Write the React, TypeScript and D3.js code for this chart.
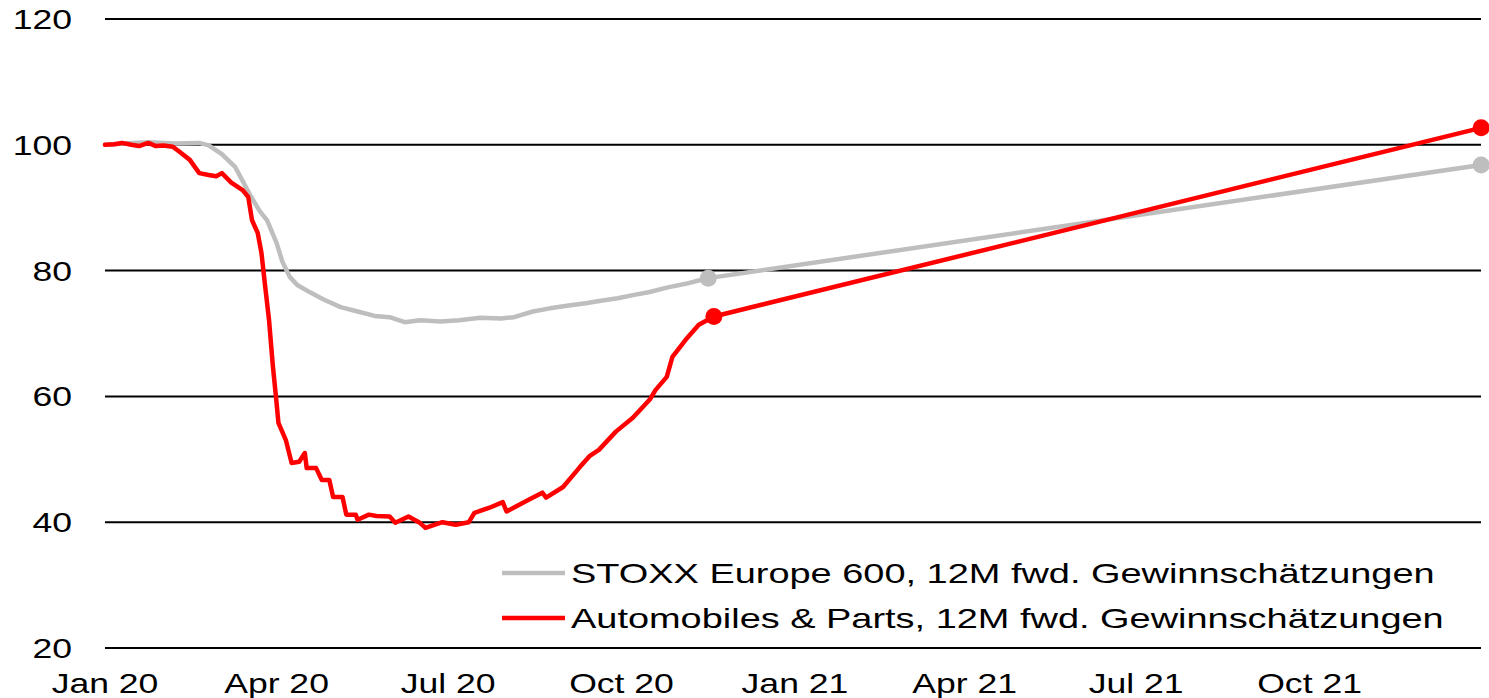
import React from "react";
import * as d3 from "d3";

const yTicks = [20, 40, 60, 80, 100, 120];
const xTickDates = ["2020-01-01", "2020-04-01", "2020-07-01", "2020-10-01", "2021-01-01", "2021-04-01", "2021-07-01", "2021-10-01"];
const xTickLabels = ["Jan 20", "Apr 20", "Jul 20", "Oct 20", "Jan 21", "Apr 21", "Jul 21", "Oct 21"];

const greyDates = ["2020-01-01","2020-01-11","2020-01-24","2020-02-07","2020-02-20","2020-02-25","2020-03-03","2020-03-10","2020-03-18","2020-03-23","2020-03-27","2020-04-01","2020-04-04","2020-04-08","2020-04-12","2020-04-19","2020-04-26","2020-05-05","2020-05-14","2020-05-23","2020-05-31","2020-06-08","2020-06-16","2020-06-27","2020-07-07","2020-07-18","2020-07-29","2020-08-05","2020-08-15","2020-08-24","2020-09-02","2020-09-12","2020-09-20","2020-09-29","2020-10-07","2020-10-16","2020-10-25","2020-11-04","2020-11-12","2020-11-16"];
const greyValues = [100,100.2,100.4,100.2,100.3,99.9,98.5,96.5,92,89.5,88,84.4,81.5,79,77.7,76.5,75.4,74.2,73.5,72.8,72.6,71.8,72.1,71.9,72.1,72.5,72.4,72.6,73.5,74,74.4,74.8,75.2,75.6,76.1,76.6,77.3,77.9,78.5,78.8];

const redDates = ["2020-01-01","2020-01-06","2020-01-10","2020-01-15","2020-01-19","2020-01-24","2020-01-28","2020-02-01","2020-02-06","2020-02-09","2020-02-15","2020-02-20","2020-02-25","2020-02-29","2020-03-03","2020-03-08","2020-03-14","2020-03-17","2020-03-19","2020-03-22","2020-03-24","2020-03-26","2020-03-28","2020-03-30","2020-04-01","2020-04-02","2020-04-06","2020-04-09","2020-04-13","2020-04-16","2020-04-17","2020-04-22","2020-04-25","2020-04-29","2020-05-01","2020-05-06","2020-05-08","2020-05-13","2020-05-14","2020-05-20","2020-05-24","2020-05-31","2020-06-03","2020-06-10","2020-06-16","2020-06-19","2020-06-28","2020-07-05","2020-07-12","2020-07-15","2020-07-23","2020-07-30","2020-08-01","2020-08-06","2020-08-13","2020-08-20","2020-08-22","2020-08-31","2020-09-09","2020-09-14","2020-09-19","2020-09-28","2020-10-07","2020-10-16","2020-10-19","2020-10-25","2020-10-28","2020-11-04","2020-11-11","2020-11-19"];
const redValues = [100,100.1,100.3,100,99.8,100.3,99.8,99.9,99.7,99,97.6,95.5,95.2,95,95.5,94,92.8,91.7,88,86,82.8,77.4,72.2,65,59,55.8,53,49.4,49.6,51,48.6,48.6,46.7,46.7,44,44,41.2,41.2,40.4,41.2,41,40.9,39.9,40.9,39.9,39.1,40,39.6,40,41.5,42.3,43.2,41.7,42.5,43.6,44.7,43.9,45.6,48.8,50.5,51.5,54.4,56.6,59.5,61,63.1,66.3,69,71.4,72.7];

const forecastDate = "2021-12-31";
const greyForecast = 96.8;
const redForecast = 102.7;

const seriesNames = ["STOXX Europe 600, 12M fwd. Gewinnschätzungen", "Automobiles & Parts, 12M fwd. Gewinnschätzungen"];
const seriesColors = ["#bebebe", "#ff0000"];

const W = 1489;
const H = 698;
const FONT = "'Liberation Sans', Arial, sans-serif";
const SX = 1.27;
const SXL = 1.355;

export default function App() {
  const parse = d3.timeParse("%Y-%m-%d");
  const x = d3.scaleTime().domain([parse("2020-01-01")!, parse("2022-01-01")!]).range([105, 1483]);
  const y = d3.scaleLinear().domain([20, 120]).range([648, 19]);
  const line = d3.line<[Date, number]>().x((d) => x(d[0])).y((d) => y(d[1]));

  const grey: [Date, number][] = greyDates.map((d, i) => [parse(d)!, greyValues[i]]);
  const red: [Date, number][] = redDates.map((d, i) => [parse(d)!, redValues[i]]);
  const fDate = parse(forecastDate)!;
  const greyLast = grey[grey.length - 1];
  const redLast = red[red.length - 1];
  const greyF: [Date, number] = [fDate, greyForecast];
  const redF: [Date, number] = [fDate, redForecast];

  const series = [
    { data: grey, last: greyLast, f: greyF, color: seriesColors[0] },
    { data: red, last: redLast, f: redF, color: seriesColors[1] },
  ];

  return (
    <svg width={W} height={H} style={{ position: "absolute", left: 0, top: 0, background: "#fff" }}>
      {yTicks.map((t) => (
        <g key={t}>
          <line x1={105} x2={1481} y1={y(t)} y2={y(t)} stroke="#000" strokeWidth={2} />
          <text transform={`translate(72,${y(t)}) scale(${SX},1)`} textAnchor="end" dy="0.36em" fontFamily={FONT} fontSize={28} fill="#000">
            {t}
          </text>
        </g>
      ))}
      {xTickDates.map((d, i) => (
        <text key={d} transform={`translate(${x(parse(d)!)},693) scale(${SX},1)`} textAnchor="middle" fontFamily={FONT} fontSize={28} fill="#000">
          {xTickLabels[i]}
        </text>
      ))}
      {series.map((s, i) => (
        <g key={i}>
          <path d={line(s.data) || ""} fill="none" stroke={s.color} strokeWidth={4.5} strokeLinejoin="round" strokeLinecap="round" />
          <path d={line([s.last, s.f]) || ""} fill="none" stroke={s.color} strokeWidth={4.5} strokeLinecap="round" />
          <circle cx={x(s.last[0])} cy={y(s.last[1])} r={8.5} fill={s.color} />
          <circle cx={x(s.f[0])} cy={y(s.f[1])} r={8.5} fill={s.color} />
        </g>
      ))}
      {seriesNames.map((n, i) => {
        const ly = 573 + i * 45;
        return (
          <g key={n}>
            <line x1={502} x2={565} y1={ly} y2={ly} stroke={seriesColors[i]} strokeWidth={4.5} />
            <text transform={`translate(571,${ly}) scale(${SXL},1)`} dy="0.36em" fontFamily={FONT} fontSize={28} fill="#000">
              {n}
            </text>
          </g>
        );
      })}
    </svg>
  );
}
